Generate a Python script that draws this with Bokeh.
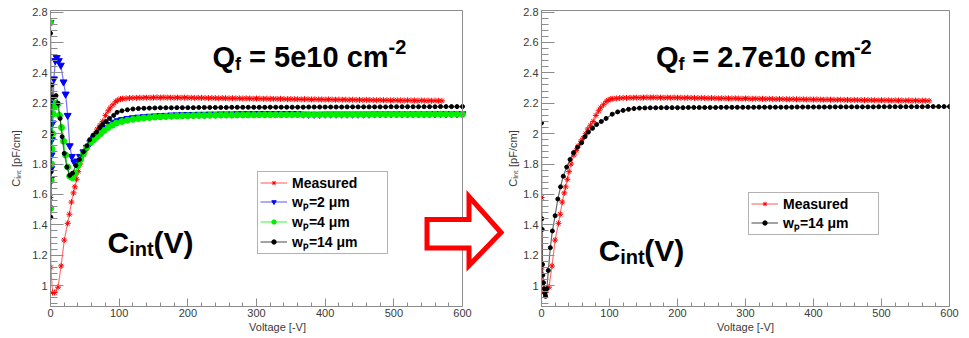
from bokeh.plotting import figure
from bokeh.layouts import row
from bokeh.models import Label, PolyAnnotation, FixedTicker, Range1d, LinearAxis, Span
from bokeh.embed import file_html
from bokeh.resources import INLINE

# ---------------- data ----------------
x_ticks = [0, 100, 200, 300, 400, 500, 600]
x_tick_labels = ["0", "100", "200", "300", "400", "500", "600"]
y_ticks = [1.0, 1.2, 1.4, 1.6, 1.8, 2.0, 2.2, 2.4, 2.6, 2.8]
y_tick_labels = ["1", "1.2", "1.4", "1.6", "1.8", "2", "2.2", "2.4", "2.6", "2.8"]

# Measured C_int(V)
meas_v_low = [0, 0.5, 3, 6, 11, 15.5, 20, 25, 27.5, 30.5, 33.5, 35.5, 38, 40.5, 43.5, 48, 51, 54,
              58, 61, 65, 68, 72, 76, 80, 84, 87, 91, 95, 98, 102]
meas_c_low = [1.58, 1.12, 0.955, 0.955, 0.99, 1.13, 1.30, 1.41, 1.47, 1.55, 1.61, 1.65, 1.70, 1.75,
              1.80, 1.86, 1.89, 1.92, 1.95, 1.97, 2.00, 2.03, 2.055, 2.08, 2.12, 2.15, 2.17, 2.19,
              2.21, 2.22, 2.228]
meas_v_flat = list(range(105, 571, 5))
meas_c_flat = [2.230, 2.232, 2.234, 2.235, 2.235, 2.236, 2.236, 2.237, 2.236, 2.237,
               2.238, 2.237, 2.238, 2.237, 2.237, 2.236, 2.237, 2.236, 2.237, 2.236,
               2.236, 2.235, 2.236, 2.235, 2.235, 2.234, 2.235, 2.234, 2.233, 2.234,
               2.233, 2.232, 2.233, 2.232, 2.232, 2.231, 2.232, 2.231, 2.230, 2.231,
               2.230, 2.229, 2.230, 2.229, 2.229, 2.228, 2.229, 2.228, 2.227, 2.228,
               2.227, 2.227, 2.226, 2.227, 2.226, 2.225, 2.226, 2.225, 2.225, 2.224,
               2.225, 2.224, 2.223, 2.224, 2.223, 2.223, 2.222, 2.223, 2.222, 2.222,
               2.221, 2.222, 2.221, 2.221, 2.220, 2.221, 2.220, 2.220, 2.219, 2.220,
               2.219, 2.219, 2.218, 2.219, 2.218, 2.218, 2.217, 2.218, 2.217, 2.217,
               2.216, 2.217, 2.216, 2.216]

# Simulation voltage grid above 100 V
sim_v_flat = list(range(104, 601, 8))

# Qf = 5e10 cm^-2, wp = 2 um
wp2_v_low = [0, 0.5, 1, 1.5, 2, 3, 4, 5, 7, 9, 12, 15, 19, 22, 25, 28, 31, 35, 39, 43, 48, 53,
             58, 63, 68, 74, 80, 86, 92, 98]
wp2_c_low = [2.73, 1.70, 1.77, 1.86, 1.96, 2.07, 2.20, 2.36, 2.48, 2.50, 2.48, 2.45, 2.34, 2.26,
             2.12, 1.92, 1.85, 1.81, 1.82, 1.85, 1.88, 1.91, 1.94, 1.97, 1.99, 2.02, 2.04, 2.06,
             2.075, 2.085]
wp2_c_flat = [2.092, 2.099, 2.104, 2.108, 2.111, 2.114, 2.116, 2.118, 2.120, 2.122,
              2.123, 2.124, 2.125, 2.126, 2.127, 2.127, 2.128, 2.128, 2.129, 2.129,
              2.129, 2.130, 2.130, 2.130, 2.130, 2.131, 2.131, 2.131, 2.131, 2.131,
              2.132, 2.132, 2.131, 2.128, 2.127, 2.127, 2.127, 2.128, 2.128, 2.128,
              2.128, 2.128, 2.128, 2.128, 2.128, 2.128, 2.129, 2.129, 2.129, 2.129,
              2.129, 2.129, 2.129, 2.129, 2.129, 2.129, 2.129, 2.130, 2.130, 2.130,
              2.130, 2.130, 2.130]

# Qf = 5e10 cm^-2, wp = 4 um
wp4_v_low = [0, 0.5, 1, 1.5, 2, 3, 4, 6, 8, 10, 13, 16, 19, 22, 25, 28, 32, 36, 40, 44, 48, 53,
             58, 63, 68, 73, 78, 84, 90, 96]
wp4_c_low = [2.73, 1.51, 1.69, 1.80, 1.90, 2.00, 2.13, 2.18, 2.20, 2.19, 2.12, 2.04, 1.95, 1.86,
             1.78, 1.72, 1.71, 1.74, 1.79, 1.83, 1.87, 1.91, 1.94, 1.96, 1.98, 2.00, 2.02, 2.04,
             2.055, 2.07]
wp4_c_flat = [2.080, 2.088, 2.094, 2.099, 2.103, 2.106, 2.109, 2.111, 2.113, 2.115,
              2.116, 2.117, 2.118, 2.119, 2.120, 2.120, 2.121, 2.121, 2.122, 2.122,
              2.122, 2.123, 2.123, 2.123, 2.123, 2.124, 2.124, 2.124, 2.124, 2.124,
              2.125, 2.125, 2.125, 2.125, 2.125, 2.125, 2.125, 2.126, 2.126, 2.126,
              2.126, 2.126, 2.126, 2.126, 2.126, 2.126, 2.127, 2.127, 2.127, 2.127,
              2.127, 2.127, 2.127, 2.127, 2.127, 2.127, 2.127, 2.128, 2.128, 2.128,
              2.128, 2.128, 2.128]

# Qf = 5e10 cm^-2, wp = 14 um
wp14_v_low = [0, 0.5, 1, 1.5, 2, 3, 5, 8, 11, 14, 17, 20, 24, 28, 32, 37, 42, 48, 53, 57, 62,
              67, 72, 76, 81, 86, 92, 97]
wp14_c_low = [2.66, 1.45, 1.75, 2.00, 2.32, 2.24, 2.24, 2.25, 2.20, 2.10, 1.98, 1.87, 1.78,
              1.725, 1.74, 1.79, 1.83, 1.88, 1.92, 1.96, 1.99, 2.01, 2.04, 2.06, 2.08, 2.10,
              2.12, 2.14]
wp14_c_flat = [2.150, 2.157, 2.162, 2.165, 2.167, 2.168, 2.169, 2.170, 2.170, 2.170,
               2.171, 2.171, 2.171, 2.171, 2.172, 2.172, 2.172, 2.172, 2.172, 2.172,
               2.173, 2.173, 2.173, 2.173, 2.173, 2.173, 2.173, 2.174, 2.174, 2.174,
               2.174, 2.174, 2.174, 2.174, 2.175, 2.175, 2.175, 2.175, 2.175, 2.175,
               2.175, 2.176, 2.176, 2.176, 2.176, 2.176, 2.176, 2.176, 2.176, 2.177,
               2.177, 2.177, 2.177, 2.177, 2.177, 2.177, 2.177, 2.177, 2.178, 2.178,
               2.178, 2.178, 2.178]

# Qf = 2.7e10 cm^-2, wp = 14 um
q27_v_low = [0, 0.5, 1, 1.5, 2, 3, 4, 5, 6, 8, 10, 13, 16, 20, 24, 28, 32, 37, 42, 47, 53, 59,
             64, 69, 75, 81, 88, 95]
q27_c_low = [2.07, 1.44, 1.37, 1.14, 1.07, 1.02, 0.98, 0.95, 0.93, 0.98, 1.10, 1.25, 1.36, 1.46,
             1.57, 1.65, 1.72, 1.78, 1.83, 1.875, 1.91, 1.94, 1.98, 2.01, 2.035, 2.06, 2.08, 2.10]
q27_c_flat = [2.128, 2.143, 2.153, 2.160, 2.165, 2.168, 2.169, 2.170, 2.170, 2.171,
              2.171, 2.171, 2.171, 2.171, 2.172, 2.172, 2.172, 2.172, 2.172, 2.172,
              2.173, 2.173, 2.173, 2.173, 2.173, 2.173, 2.173, 2.174, 2.174, 2.174,
              2.174, 2.174, 2.174, 2.174, 2.175, 2.175, 2.175, 2.175, 2.175, 2.175,
              2.175, 2.176, 2.176, 2.176, 2.176, 2.176, 2.176, 2.176, 2.176, 2.177,
              2.177, 2.177, 2.177, 2.177, 2.177, 2.177, 2.177, 2.177, 2.178, 2.178,
              2.178, 2.178, 2.178]

meas_v = meas_v_low + meas_v_flat
meas_c = meas_c_low + meas_c_flat
wp2_v, wp2_c = wp2_v_low + sim_v_flat, wp2_c_low + wp2_c_flat
wp4_v, wp4_c = wp4_v_low + sim_v_flat, wp4_c_low + wp4_c_flat
wp14_v, wp14_c = wp14_v_low + sim_v_flat, wp14_c_low + wp14_c_flat
q27_v, q27_c = q27_v_low + sim_v_flat, q27_c_low + q27_c_flat

# ---------------- layout constants (page pixels, origin top-left) ----------------
H = 338
TOP = 10
BOTTOM = 32
FRAME_H = H - TOP - BOTTOM          # frame spans y = 10 .. 306
Y0, Y1 = 0.863, 2.81
XMAX = 600.0
GRAY = "#8c8c8c"
TXT = "#3a3a3a"

# left figure: canvas x 0..504, visible frame 50..462 (0..600 V), frame extends to 504
L_W, L_BL = 504, 50
L_FW = L_W - L_BL
L_XEND = XMAX * L_FW / 412.0
# right figure: canvas x 504..969, frame 536..949
R_W, R_BL, R_BR = 465, 32, 20

BOLD_W = {"C": 722, "i": 278, "n": 611, "t": 333, "(": 333, "V": 667, ")": 333, "Q": 778,
          "f": 333, " ": 278, "=": 584, "e": 556, "c": 556, "m": 889, "-": 333, ".": 278}
for d in "0123456789":
    BOLD_W[d] = 556


def make_fig(width, bl, br, xend, title_standoff):
    p = figure(width=width, height=H, x_range=Range1d(0, xend), y_range=Range1d(Y0, Y1),
               output_backend="svg", toolbar_location=None,
               min_border_left=bl, min_border_right=br, min_border_top=TOP,
               min_border_bottom=BOTTOM)
    p.grid.visible = False
    p.outline_line_color = GRAY
    p.outline_line_width = 1
    p.background_fill_color = "white"
    p.border_fill_color = "white"
    xa, ya = p.xaxis[0], p.yaxis[0]
    xa.ticker = FixedTicker(ticks=x_ticks,
                            minor_ticks=[v for v in range(0, 601, 20) if v % 100])
    y_minor = [round(1.0 + 0.04 * k, 2) for k in range(-3, 46)]
    ya.ticker = FixedTicker(ticks=y_ticks,
                            minor_ticks=[v for v in y_minor if all(abs(v - t) > 1e-6 for t in y_ticks)])
    xa.major_label_overrides = {t: s for t, s in zip(x_ticks, x_tick_labels)}
    ya.major_label_overrides = {t: s for t, s in zip(y_ticks, y_tick_labels)}
    for ax in (xa, ya):
        ax.axis_line_color = GRAY
        ax.major_tick_line_color = GRAY
        ax.minor_tick_line_color = GRAY
        ax.major_tick_out = 0
        ax.minor_tick_out = 0
        ax.major_label_text_font = "Liberation Sans"
        ax.major_label_text_font_size = "11px"
        ax.major_label_text_color = TXT
        ax.axis_label_text_font = "Liberation Sans"
        ax.axis_label_text_font_style = "normal"
        ax.axis_label_text_color = TXT
        ax.axis_label_text_font_size = "11px"
    xa.bounds = (0, XMAX)
    xa.major_tick_in = 8
    xa.minor_tick_in = 4
    ya.major_tick_in = 13
    ya.minor_tick_in = 7
    xa.major_label_standoff = 2
    xa.axis_label_standoff = 1
    ya.major_label_standoff = 3
    ya.axis_label_standoff = title_standoff
    xa.axis_label = "Voltage [-V]"
    ya.axis_label = "C\u1d62\u2099\u209c [pF/cm]"
    return p


def mapper(fx0, fw, xend):
    def f(px, py):
        return ((px - fx0) / fw * xend, Y1 - (py - TOP) / FRAME_H * (Y1 - Y0))
    return f


def series(p, v, c, color, marker, size, label, line_alpha):
    p.line(v, c, line_color=color, line_width=1.2, line_alpha=line_alpha, legend_label=label)
    if marker == "asterisk":
        p.scatter(v, c, marker=marker, size=size, line_color=color, line_width=1.0,
                  legend_label=label)
    else:
        p.scatter(v, c, marker=marker, size=size, fill_color=color, line_color=color,
                  legend_label=label)


def style_legend(p, loc):
    lg = p.legend[0]
    lg.location = loc
    lg.padding = 2
    lg.spacing = 1
    lg.margin = 0
    lg.label_height = 17
    lg.glyph_height = 11
    lg.glyph_width = 27
    lg.label_standoff = 5
    lg.label_width = 93
    lg.label_text_font = "Liberation Sans"
    lg.label_text_font_style = "bold"
    lg.label_text_font_size = "14px"
    lg.label_text_color = "black"
    lg.border_line_color = "#666666"
    lg.border_line_width = 1
    lg.background_fill_color = "white"
    lg.background_fill_alpha = 1


def put_text(p, m, x, y, pieces):
    for txt, size, dy in pieces:
        lead = len(txt) - len(txt.lstrip(" "))
        x += lead * BOLD_W[" "] * size / 1000
        body = txt.lstrip(" ")
        dx_, dy_ = m(x, y + dy)
        p.add_layout(Label(x=dx_, y=dy_, text=body, text_font="Liberation Sans",
                           text_font_style="bold", text_font_size=f"{size}px",
                           text_baseline="alphabetic", text_align="left", text_color="black"))
        x += sum(BOLD_W.get(ch, 556) for ch in body) * size / 1000


# ---------------- left panel ----------------
pL = make_fig(L_W, L_BL, 0, L_XEND, 7)
pL.outline_line_color = None
top_axis = LinearAxis(ticker=FixedTicker(ticks=[]), bounds=(0, XMAX), axis_line_color=GRAY,
                      major_tick_out=0, major_tick_in=0, minor_tick_in=0, minor_tick_out=0,
                      major_label_text_font_size="0px", major_label_standoff=0)
pL.add_layout(top_axis, "above")
pL.add_layout(Span(location=XMAX, dimension="height", line_color=GRAY, line_width=1))
mL = mapper(L_BL, L_FW, L_XEND)
series(pL, meas_v, meas_c, "#ff0000", "asterisk", 6, "Measured", 0.55)
series(pL, wp2_v, wp2_c, "#0000ff", "inverted_triangle", 7, "w\u209a=2 \u03bcm", 0.55)
series(pL, wp4_v, wp4_c, "#00ee00", "circle", 6, "w\u209a=4 \u03bcm", 0.65)
series(pL, wp14_v, wp14_c, "#000000", "circle", 4, "w\u209a=14 \u03bcm", 0.6)
style_legend(pL, (207, 52))
put_text(pL, mL, 212, 56, [("Q", 29, 0), ("f", 18, 7), (" = 5e10 cm", 29, 0), ("-2", 20, -10)])
put_text(pL, mL, 107, 242, [("C", 30, 0), ("int", 20, 6), ("(V)", 30, 0)])

# hollow red arrow between the panels (decoration)
apx = [426.5, 468.5, 468.5, 500.5, 468.5, 468.5, 426.5]
apy = [219.0, 219.0, 196.0, 232.0, 265.0, 247.5, 247.5]
pts = [mL(a, b) for a, b in zip(apx, apy)]
pL.add_layout(PolyAnnotation(xs=[q[0] for q in pts], ys=[q[1] for q in pts],
                             xs_units="data", ys_units="data",
                             fill_color="white", fill_alpha=1.0,
                             line_color="#ff0000", line_alpha=1.0, line_width=5,
                             line_join="miter"))

# ---------------- right panel ----------------
pR = make_fig(R_W, R_BL, R_BR, XMAX, 1)
mR = mapper(L_W + R_BL, R_W - R_BL - R_BR, XMAX)
series(pR, meas_v, meas_c, "#ff0000", "asterisk", 6, "Measured", 0.55)
series(pR, q27_v, q27_c, "#000000", "circle", 4, "w\u209a=14 \u03bcm", 0.6)
style_legend(pR, (207, 306 - 235))
put_text(pR, mR, 652, 56, [("Q", 29, 0), ("f", 18, 7), (" = 2.7e10 cm", 29, 0), ("-2", 20, -10)])
put_text(pR, mR, 594, 250, [("C", 30, 0), ("int", 20, 6), ("(V)", 30, 0)])

layout = row(pL, pR, spacing=0)
open("out.html", "w").write(file_html(layout, INLINE))
